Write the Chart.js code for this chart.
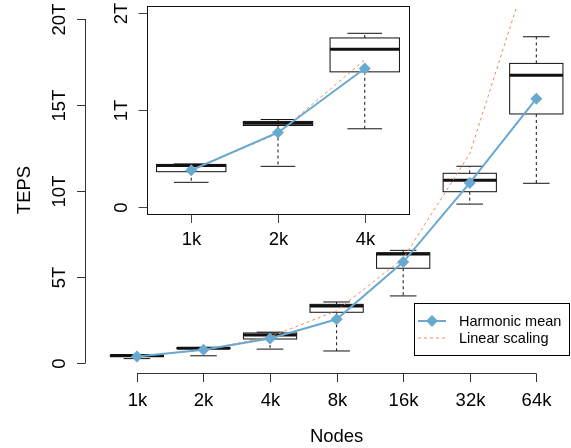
<!DOCTYPE html>
<html>
<head>
<meta charset="utf-8">
<script src="https://cdn.jsdelivr.net/npm/chart.js@4"></script>
<style>
  html, body { margin: 0; padding: 0; background: #fff; overflow: hidden; }
  #wrap { position: relative; width: 571px; height: 448px; }
  #wrap canvas { position: absolute; left: 0; top: 0; }
</style>
</head>
<body>
<div id="wrap">
  <canvas id="mainChart" width="571" height="448"></canvas>
  <canvas id="insetChart" width="571" height="448"></canvas>
</div>
<script>
// data (TEPS in units of 1e12)
const nodeLabels = ["1k", "2k", "4k", "8k", "16k", "32k", "64k"];
const harmonicMean = [0.38, 0.77, 1.43, 2.54, 5.87, 10.47, 15.37];
const linearScaling = [0.38, 0.76, 1.52, 3.04, 6.08, 12.16, 24.32];
const whiskerLow = [0.255, 0.42, 0.808, 0.70, 3.90, 9.24, 10.45];
const boxLow = [0.365, 0.842, 1.396, 2.95, 5.51, 9.96, 14.48];
const medians = [0.43, 0.865, 1.63, 3.31, 6.34, 10.62, 16.73];
const boxHigh = [0.44, 0.884, 1.746, 3.41, 6.41, 11.03, 17.42];
const whiskerHigh = [0.445, 0.904, 1.794, 3.55, 6.55, 11.44, 18.97];

const mainTicks = [0, 5, 10, 15, 20];
const mainTickLabels = ["0", "5T", "10T", "15T", "20T"];
const insetTicks = [0, 1, 2];
const insetTickLabels = ["0", "1T", "2T"];

const BLUE = "#67a9cf";
const ORANGE = "#ef8a62";
const FONT = "18.5px 'Liberation Sans', Arial, sans-serif";

function pts(arr) {
  return arr.map((v, i) => ({ x: i + 1, y: v }));
}

function hline(ctx, x1, x2, y) {
  ctx.beginPath();
  ctx.moveTo(x1, y);
  ctx.lineTo(x2, y);
  ctx.stroke();
}

// boxes drawn under the lines, R style
const boxPlugin = {
  id: "boxes",
  beforeDatasetsDraw(chart) {
    const { ctx, chartArea, scales: { x, y } } = chart;
    const n = chart.data.datasets[0].data.length;
    ctx.save();
    ctx.beginPath();
    ctx.rect(chartArea.left, chartArea.top, chartArea.right - chartArea.left, chartArea.bottom - chartArea.top);
    ctx.clip();
    ctx.strokeStyle = "#111";
    for (let i = 0; i < n; i++) {
      const cx = x.getPixelForValue(i + 1);
      const bl = x.getPixelForValue(i + 0.6), br = x.getPixelForValue(i + 1.4);
      const sl = x.getPixelForValue(i + 0.8), sr = x.getPixelForValue(i + 1.2);
      const yLo = y.getPixelForValue(whiskerLow[i]);
      const yQ1 = y.getPixelForValue(boxLow[i]);
      const yMed = y.getPixelForValue(medians[i]);
      const yQ3 = y.getPixelForValue(boxHigh[i]);
      const yHi = y.getPixelForValue(whiskerHigh[i]);

      // whiskers
      ctx.lineWidth = 1;
      ctx.setLineDash([3, 3]);
      ctx.beginPath();
      ctx.moveTo(cx, yQ1); ctx.lineTo(cx, yLo);
      ctx.moveTo(cx, yQ3); ctx.lineTo(cx, yHi);
      ctx.stroke();
      ctx.setLineDash([]);
      hline(ctx, sl, sr, yLo);
      hline(ctx, sl, sr, yHi);

      // box
      ctx.fillStyle = "#fff";
      ctx.fillRect(bl, yQ3, br - bl, yQ1 - yQ3);
      ctx.strokeRect(bl, yQ3, br - bl, yQ1 - yQ3);

      // median
      ctx.lineWidth = 3;
      ctx.lineCap = "butt";
      hline(ctx, bl, br, yMed);
    }
    ctx.restore();
  }
};

function drawRotated(ctx, text, x, y) {
  ctx.save();
  ctx.translate(x, y);
  ctx.rotate(-Math.PI / 2);
  ctx.textAlign = "center";
  ctx.textBaseline = "alphabetic";
  ctx.fillText(text, 0, 0);
  ctx.restore();
}

const mainAxes = {
  id: "mainAxes",
  afterDraw(chart) {
    const { ctx, scales: { x, y } } = chart;
    ctx.save();
    ctx.strokeStyle = "#333";
    ctx.fillStyle = "#000";
    ctx.lineWidth = 1;
    ctx.font = FONT;

    // y axis
    const ax = Math.round(x.left) + 0.5;
    ctx.beginPath();
    ctx.moveTo(ax, y.getPixelForValue(mainTicks[0]));
    ctx.lineTo(ax, y.getPixelForValue(mainTicks[mainTicks.length - 1]));
    ctx.stroke();
    mainTicks.forEach((t, i) => {
      const py = Math.round(y.getPixelForValue(t)) + 0.5;
      hline(ctx, ax - 8.5, ax, py);
      drawRotated(ctx, mainTickLabels[i], 65, py);
    });
    drawRotated(ctx, "TEPS", 30, (y.top + y.bottom) / 2);

    // x axis
    const ay = Math.round(y.bottom) + 0.5;
    hline(ctx, x.getPixelForValue(1), x.getPixelForValue(nodeLabels.length), ay);
    ctx.textAlign = "center";
    ctx.textBaseline = "alphabetic";
    nodeLabels.forEach((lab, i) => {
      const px = Math.round(x.getPixelForValue(i + 1)) + 0.5;
      ctx.beginPath();
      ctx.moveTo(px, ay);
      ctx.lineTo(px, ay + 8.5);
      ctx.stroke();
      ctx.fillText(lab, px, 406);
    });
    ctx.fillText("Nodes", x.getPixelForValue(4), 442);

    // legend
    const ds = chart.data.datasets;
    const lx = 414.5, ly = 303.5, lw = 155, lh = 52;
    ctx.fillStyle = "#fff";
    ctx.fillRect(lx, ly, lw, lh);
    ctx.strokeStyle = "#000";
    ctx.strokeRect(lx, ly, lw, lh);
    ctx.font = "14.5px 'Liberation Sans', Arial, sans-serif";
    ctx.textAlign = "left";
    ctx.textBaseline = "middle";
    [321, 338].forEach((ry, i) => {
      const d = ds[i];
      ctx.strokeStyle = d.borderColor;
      ctx.lineWidth = d.borderWidth;
      ctx.setLineDash(d.borderDash || []);
      hline(ctx, 418, 446, ry);
      ctx.setLineDash([]);
      if (d.pointRadius > 0) {
        ctx.fillStyle = d.backgroundColor;
        ctx.beginPath();
        ctx.moveTo(432, ry - 6); ctx.lineTo(438, ry);
        ctx.lineTo(432, ry + 6); ctx.lineTo(426, ry);
        ctx.closePath();
        ctx.fill();
      }
      ctx.fillStyle = "#000";
      ctx.fillText(d.label, 459, ry + 1);
    });
    ctx.restore();
  }
};

const insetFrame = {
  id: "insetFrame",
  beforeDraw(chart) {
    const { ctx, chartArea: a } = chart;
    ctx.save();
    ctx.fillStyle = "#fff";
    ctx.fillRect(a.left, a.top, a.right - a.left, a.bottom - a.top);
    ctx.restore();
  },
  afterDraw(chart) {
    const { ctx, chartArea: a, scales: { x, y } } = chart;
    ctx.save();
    ctx.strokeStyle = "#111";
    ctx.fillStyle = "#000";
    ctx.lineWidth = 1;
    ctx.font = FONT;
    ctx.strokeRect(Math.round(a.left) + 0.5, Math.round(a.top) + 0.5,
      Math.round(a.right - a.left), Math.round(a.bottom - a.top));
    ctx.strokeStyle = "#444";
    const ax = Math.round(a.left) + 0.5;
    insetTicks.forEach((t, i) => {
      const py = Math.round(y.getPixelForValue(t)) + 0.5;
      hline(ctx, ax - 9, ax, py);
      drawRotated(ctx, insetTickLabels[i], 127, py);
    });
    const ay = Math.round(a.bottom) + 0.5;
    ctx.textAlign = "center";
    ctx.textBaseline = "alphabetic";
    for (let i = 0; i < 3; i++) {
      const px = Math.round(x.getPixelForValue(i + 1)) + 0.5;
      ctx.beginPath();
      ctx.moveTo(px, ay);
      ctx.lineTo(px, ay + 8.5);
      ctx.stroke();
      ctx.fillText(nodeLabels[i], px, 245);
    }
    ctx.restore();
  }
};

function makeChart(id, n, padding, xr, yr, plugins) {
  return new Chart(document.getElementById(id), {
    type: "line",
    data: {
      datasets: [
        {
          label: "Harmonic mean",
          data: pts(harmonicMean.slice(0, n)),
          borderColor: BLUE,
          backgroundColor: BLUE,
          borderWidth: 2,
          pointStyle: "rectRot",
          pointRadius: 6,
          pointBorderWidth: 0,
          tension: 0
        },
        {
          label: "Linear scaling",
          data: pts(linearScaling.slice(0, n)),
          borderColor: ORANGE,
          backgroundColor: ORANGE,
          borderWidth: 1,
          borderDash: [3, 3],
          pointRadius: 0,
          tension: 0
        }
      ]
    },
    options: {
      responsive: false,
      animation: false,
      devicePixelRatio: 1,
      layout: { padding: padding },
      plugins: { legend: { display: false }, tooltip: { enabled: false } },
      scales: {
        x: { type: "linear", min: xr[0], max: xr[1], display: false },
        y: { type: "linear", min: yr[0], max: yr[1], display: false }
      }
    },
    plugins: plugins
  });
}

makeChart("mainChart", 7, { left: 85, right: 0, top: 7, bottom: 75 },
  [0.22, 7.431], [-0.581, 20.70], [boxPlugin, mainAxes]);
makeChart("insetChart", 3, { left: 147, right: 162, top: 5, bottom: 234 },
  [0.49, 3.51], [-0.072, 2.076], [insetFrame, boxPlugin]);
</script>
</body>
</html>
